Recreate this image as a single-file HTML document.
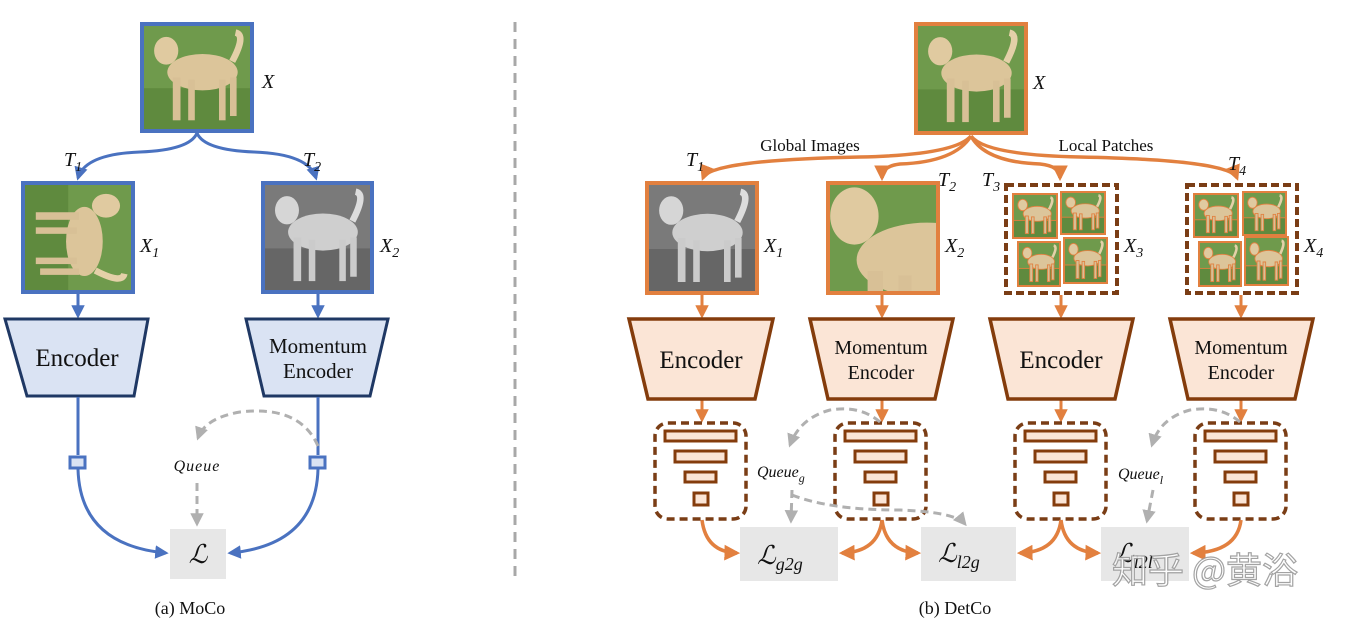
<!DOCTYPE html>
<html><head><meta charset="utf-8"><style>
html,body{margin:0;padding:0;background:#fff;width:1346px;height:626px;overflow:hidden}
svg{display:block}
text{font-family:"Liberation Serif",serif;fill:#111}
.it{font-style:italic}
</style></head><body>
<svg width="1346" height="626" viewBox="0 0 1346 626" xmlns="http://www.w3.org/2000/svg">
<defs>
<marker id="ab" viewBox="0 0 10 10" refX="8" refY="5" markerWidth="4.5" markerHeight="4.5" orient="auto"><path d="M0,0L10,5L0,10z" fill="#4a72c0"/></marker>
<marker id="ao" viewBox="0 0 10 10" refX="8" refY="5" markerWidth="4.5" markerHeight="4.5" orient="auto"><path d="M0,0L10,5L0,10z" fill="#e2803f"/></marker>
<marker id="ag" viewBox="0 0 10 10" refX="8" refY="5" markerWidth="4.5" markerHeight="4.5" orient="auto"><path d="M0,0L10,5L0,10z" fill="#b0b0b0"/></marker>
<symbol id="dog" viewBox="0 0 100 100" preserveAspectRatio="none">
<rect width="100" height="100" fill="#6f9a4c"/>
<rect y="60" width="100" height="40" fill="#5f8a3e"/>
<ellipse cx="55" cy="45" rx="32" ry="17" fill="#dcc59a"/>
<ellipse cx="22" cy="25" rx="11" ry="13" fill="#e0caa0"/>
<rect x="28" y="50" width="7" height="40" fill="#d8c096"/>
<rect x="42" y="52" width="6" height="38" fill="#d8c096"/>
<rect x="70" y="52" width="6" height="38" fill="#d8c096"/>
<rect x="80" y="50" width="6" height="36" fill="#d8c096"/>
<path d="M82,35 Q95,10 85,8" stroke="#e4d0a8" stroke-width="6" fill="none"/>
</symbol>
<symbol id="dogg" viewBox="0 0 100 100" preserveAspectRatio="none">
<rect width="100" height="100" fill="#7a7a7a"/>
<rect y="60" width="100" height="40" fill="#666"/>
<ellipse cx="55" cy="45" rx="32" ry="17" fill="#cfcfcf"/>
<ellipse cx="22" cy="25" rx="11" ry="13" fill="#d6d6d6"/>
<rect x="28" y="50" width="7" height="40" fill="#cbcbcb"/>
<rect x="42" y="52" width="6" height="38" fill="#cbcbcb"/>
<rect x="70" y="52" width="6" height="38" fill="#cbcbcb"/>
<rect x="80" y="50" width="6" height="36" fill="#cbcbcb"/>
<path d="M82,35 Q95,10 85,8" stroke="#ddd" stroke-width="6" fill="none"/>
</symbol>
</defs>

<!-- ============ LEFT: MoCo ============ -->
<use href="#dog" x="142" y="24" width="110" height="107"/>
<rect x="142" y="24" width="110" height="107" fill="none" stroke="#4a72c0" stroke-width="4"/>
<text x="262" y="88" class="it" font-size="20">X</text>
<path d="M197,133 Q190,150 140,152 Q85,154 78,178" fill="none" stroke="#4a72c0" stroke-width="3" marker-end="url(#ab)"/>
<path d="M197,133 Q204,150 254,152 Q309,154 316,178" fill="none" stroke="#4a72c0" stroke-width="3" marker-end="url(#ab)"/>
<text x="64" y="166" class="it" font-size="20">T<tspan font-size="14" dy="5">1</tspan></text>
<text x="303" y="166" class="it" font-size="20">T<tspan font-size="14" dy="5">2</tspan></text>
<g transform="translate(78,237) rotate(90) translate(-55,-55)"><use href="#dog" x="0" y="0" width="108" height="108"/></g>
<rect x="23" y="183" width="110" height="109" fill="none" stroke="#4a72c0" stroke-width="4"/>
<use href="#dogg" x="263" y="183" width="109" height="109"/>
<rect x="263" y="183" width="109" height="109" fill="none" stroke="#4a72c0" stroke-width="4"/>
<text x="140" y="252" class="it" font-size="20">X<tspan font-size="14" dy="5">1</tspan></text>
<text x="380" y="252" class="it" font-size="20">X<tspan font-size="14" dy="5">2</tspan></text>
<line x1="78" y1="294" x2="78" y2="316" stroke="#4a72c0" stroke-width="3" marker-end="url(#ab)"/>
<line x1="318" y1="294" x2="318" y2="316" stroke="#4a72c0" stroke-width="3" marker-end="url(#ab)"/>
<polygon points="5,319 148,319 134,396 27,396" fill="#dae3f3" stroke="#1f3864" stroke-width="3"/>
<polygon points="246,319 388,319 370,396 264,396" fill="#dae3f3" stroke="#1f3864" stroke-width="3"/>
<text x="77" y="366" font-size="25" text-anchor="middle">Encoder</text>
<text x="318" y="353" font-size="21" text-anchor="middle">Momentum</text>
<text x="318" y="378" font-size="21" text-anchor="middle">Encoder</text>
<line x1="78" y1="397" x2="78" y2="455" stroke="#4a72c0" stroke-width="3"/>
<line x1="318" y1="397" x2="318" y2="455" stroke="#4a72c0" stroke-width="3"/>
<rect x="70" y="457" width="15" height="11" fill="#dae3f3" stroke="#4a72c0" stroke-width="3"/>
<rect x="310" y="457" width="15" height="11" fill="#dae3f3" stroke="#4a72c0" stroke-width="3"/>
<path d="M78,469 Q80,545 166,553" fill="none" stroke="#4a72c0" stroke-width="3" marker-end="url(#ab)"/>
<path d="M318,469 Q316,545 230,553" fill="none" stroke="#4a72c0" stroke-width="3" marker-end="url(#ab)"/>
<rect x="170" y="529" width="56" height="50" fill="#e7e7e7"/>
<text x="198" y="563" class="it" font-size="26" text-anchor="middle">ℒ</text>
<text x="197" y="471" class="it" font-size="16" text-anchor="middle" letter-spacing="1">Queue</text>
<path d="M318,446 Q300,405 240,412 Q205,418 198,438" fill="none" stroke="#b0b0b0" stroke-width="3" stroke-dasharray="8,5" marker-end="url(#ag)"/>
<line x1="197" y1="483" x2="197" y2="524" stroke="#b0b0b0" stroke-width="3" stroke-dasharray="8,5" marker-end="url(#ag)"/>
<text x="190" y="614" font-size="18" text-anchor="middle">(a) MoCo</text>

<line x1="515" y1="22" x2="515" y2="578" stroke="#a8a8a8" stroke-width="3" stroke-dasharray="10,7"/>

<!-- ============ RIGHT: DetCo ============ -->
<use href="#dog" x="916" y="24" width="110" height="109"/>
<rect x="916" y="24" width="110" height="109" fill="none" stroke="#e2803f" stroke-width="4"/>
<text x="1033" y="89" class="it" font-size="20">X</text>
<text x="810" y="151" font-size="17" text-anchor="middle">Global Images</text>
<text x="1106" y="151" font-size="17" text-anchor="middle">Local Patches</text>
<g fill="none" stroke="#e2803f" stroke-width="3.5">
<path d="M971,136 Q955,155 860,157 Q710,160 703,178" marker-end="url(#ao)"/>
<path d="M971,136 Q955,162 900,164 Q882,166 882,178" marker-end="url(#ao)"/>
<path d="M971,136 Q985,162 1040,164 Q1060,166 1060,178" marker-end="url(#ao)"/>
<path d="M971,136 Q985,155 1080,157 Q1230,160 1237,178" marker-end="url(#ao)"/>
</g>
<text x="686" y="166" class="it" font-size="20">T<tspan font-size="14" dy="5">1</tspan></text>
<text x="938" y="186" class="it" font-size="20">T<tspan font-size="14" dy="5">2</tspan></text>
<text x="982" y="186" class="it" font-size="20">T<tspan font-size="14" dy="5">3</tspan></text>
<text x="1228" y="170" class="it" font-size="20">T<tspan font-size="14" dy="5">4</tspan></text>

<use href="#dogg" x="647" y="183" width="110" height="110"/>
<rect x="647" y="183" width="110" height="110" fill="none" stroke="#e2803f" stroke-width="4"/>
<g transform="translate(828,183)"><svg width="110" height="110" viewBox="10 10 50 50" preserveAspectRatio="none"><use href="#dog" x="0" y="0" width="100" height="100"/></svg></g>
<rect x="828" y="183" width="110" height="110" fill="none" stroke="#e2803f" stroke-width="4"/>

<rect x="1006" y="185" width="111" height="108" fill="none" stroke="#7a3d15" stroke-width="4" stroke-dasharray="8,4"/>
<g stroke="#e2803f" stroke-width="2">
<use href="#dog" x="1013" y="194" width="44" height="44"/><rect x="1013" y="194" width="44" height="44" fill="none"/>
<use href="#dog" x="1061" y="192" width="44" height="42"/><rect x="1061" y="192" width="44" height="42" fill="none"/>
<use href="#dog" x="1018" y="242" width="42" height="44"/><rect x="1018" y="242" width="42" height="44" fill="none"/>
<use href="#dog" x="1064" y="238" width="43" height="45"/><rect x="1064" y="238" width="43" height="45" fill="none"/>
</g>
<rect x="1187" y="185" width="110" height="108" fill="none" stroke="#7a3d15" stroke-width="4" stroke-dasharray="8,4"/>
<g stroke="#e2803f" stroke-width="2">
<use href="#dog" x="1194" y="194" width="44" height="43"/><rect x="1194" y="194" width="44" height="43" fill="none"/>
<use href="#dog" x="1243" y="192" width="43" height="43"/><rect x="1243" y="192" width="43" height="43" fill="none"/>
<use href="#dog" x="1199" y="242" width="42" height="44"/><rect x="1199" y="242" width="42" height="44" fill="none"/>
<use href="#dog" x="1245" y="237" width="43" height="48"/><rect x="1245" y="237" width="43" height="48" fill="none"/>
</g>
<text x="764" y="252" class="it" font-size="20">X<tspan font-size="14" dy="5">1</tspan></text>
<text x="945" y="252" class="it" font-size="20">X<tspan font-size="14" dy="5">2</tspan></text>
<text x="1124" y="252" class="it" font-size="20">X<tspan font-size="14" dy="5">3</tspan></text>
<text x="1304" y="252" class="it" font-size="20">X<tspan font-size="14" dy="5">4</tspan></text>

<g stroke="#e2803f" stroke-width="3" fill="none">
<line x1="702" y1="295" x2="702" y2="316" marker-end="url(#ao)"/>
<line x1="882" y1="295" x2="882" y2="316" marker-end="url(#ao)"/>
<line x1="1061" y1="295" x2="1061" y2="316" marker-end="url(#ao)"/>
<line x1="1241" y1="295" x2="1241" y2="316" marker-end="url(#ao)"/>
<line x1="702" y1="400" x2="702" y2="420" marker-end="url(#ao)"/>
<line x1="882" y1="400" x2="882" y2="420" marker-end="url(#ao)"/>
<line x1="1061" y1="400" x2="1061" y2="420" marker-end="url(#ao)"/>
<line x1="1241" y1="400" x2="1241" y2="420" marker-end="url(#ao)"/>
</g>
<g fill="#fbe5d6" stroke="#843c0c" stroke-width="3.5">
<polygon points="629,319 773,319 755,399 648,399"/>
<polygon points="810,319 953,319 935,399 828,399"/>
<polygon points="990,319 1133,319 1115,399 1008,399"/>
<polygon points="1170,319 1313,319 1295,399 1188,399"/>
</g>
<text x="701" y="368" font-size="25" text-anchor="middle">Encoder</text>
<text x="1061" y="368" font-size="25" text-anchor="middle">Encoder</text>
<text x="881" y="354" font-size="20" text-anchor="middle">Momentum</text>
<text x="881" y="379" font-size="20" text-anchor="middle">Encoder</text>
<text x="1241" y="354" font-size="20" text-anchor="middle">Momentum</text>
<text x="1241" y="379" font-size="20" text-anchor="middle">Encoder</text>

<!-- feature pyramids -->
<g id="pyr">
<rect x="655" y="423" width="91" height="96" rx="13" fill="none" stroke="#7a3d15" stroke-width="3.5" stroke-dasharray="8,5"/>
<g fill="#fbe5d6" stroke="#843c0c" stroke-width="3">
<rect x="665" y="431" width="71" height="10"/>
<rect x="675" y="451" width="51" height="11"/>
<rect x="685" y="472" width="31" height="10"/>
<rect x="694" y="493" width="14" height="12"/>
</g>
</g>
<use href="#pyr" x="180" y="0"/>
<use href="#pyr" x="360" y="0"/>
<use href="#pyr" x="540" y="0"/>

<!-- losses -->
<rect x="740" y="527" width="98" height="54" fill="#e7e7e7"/>
<rect x="921" y="527" width="95" height="54" fill="#e7e7e7"/>
<rect x="1101" y="527" width="88" height="54" fill="#e7e7e7"/>
<text x="757" y="564" class="it" font-size="26">ℒ<tspan font-size="18" dy="6">g2g</tspan></text>
<text x="938" y="562" class="it" font-size="26">ℒ<tspan font-size="18" dy="6">l2g</tspan></text>
<text x="1115" y="562" class="it" font-size="26">ℒ<tspan font-size="18" dy="6">l2l</tspan></text>

<g fill="none" stroke="#e2803f" stroke-width="3.5">
<path d="M702,520 Q706,552 737,553" marker-end="url(#ao)"/>
<path d="M882,520 Q878,552 842,553" marker-end="url(#ao)"/>
<path d="M882,520 Q886,552 918,553" marker-end="url(#ao)"/>
<path d="M1061,520 Q1057,552 1020,553" marker-end="url(#ao)"/>
<path d="M1061,520 Q1065,552 1098,553" marker-end="url(#ao)"/>
<path d="M1241,520 Q1237,552 1193,553" marker-end="url(#ao)"/>
</g>

<text x="757" y="477" class="it" font-size="16">Queue<tspan font-size="12" dy="5">g</tspan></text>
<text x="1118" y="479" class="it" font-size="16">Queue<tspan font-size="12" dy="5">l</tspan></text>
<g fill="none" stroke="#b0b0b0" stroke-width="3" stroke-dasharray="8,5">
<path d="M880,422 Q860,405 830,410 Q800,418 790,445" marker-end="url(#ag)"/>
<path d="M1240,422 Q1220,405 1190,410 Q1160,418 1152,445" marker-end="url(#ag)"/>
<line x1="792" y1="490" x2="791" y2="521" marker-end="url(#ag)"/>
<path d="M792,495 Q830,510 900,510 Q955,512 965,524" marker-end="url(#ag)"/>
<line x1="1153" y1="490" x2="1147" y2="521" marker-end="url(#ag)"/>
</g>

<text x="1205" y="583" font-size="36" text-anchor="middle" style="fill:#fff;stroke:#9a9a9a;stroke-width:1.2;font-family:'Noto Sans CJK SC',sans-serif" opacity="0.9">知乎 @黄浴</text>

<text x="955" y="614" font-size="18" text-anchor="middle">(b) DetCo</text>
</svg>
</body></html>
